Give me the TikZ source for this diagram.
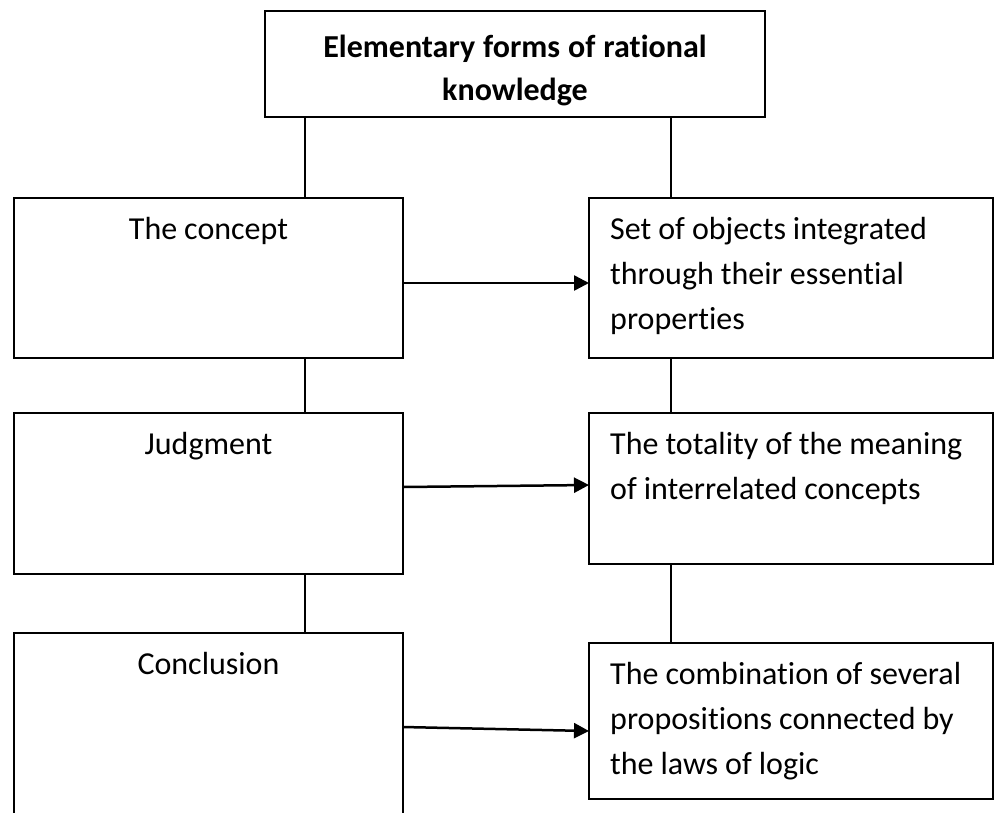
\documentclass[tikz,border=0pt]{standalone}
\usepackage{fontspec}
\setmainfont{Carlito}[Ligatures=NoCommon]
\usetikzlibrary{arrows.meta}
\newcommand{\wordgap}{\spaceskip 7pt\relax}
\newcommand{\titlegap}{\spaceskip 8pt\relax}

\begin{document}
\begin{tikzpicture}[x=1pt, y=-1pt,
    box/.style={draw, line width=2pt, inner sep=0pt, outer sep=0pt, anchor=north west},
    lbox/.style={box, minimum width=389pt},
    rbox/.style={box, minimum width=404pt},
    txt/.style={inner sep=0pt, font=\fontsize{32}{45}\selectfont},
    link/.style={line width=1.5pt},
    flow/.style={line width=2.5pt, -{Triangle[length=15pt, width=15pt]}}]
    \path[use as bounding box, clip] (0,0) rectangle (995,812);
    \coordinate (lx) at (305,0);
    \coordinate (rx) at (671,0);

    % boxes
    \node[box, minimum width=500pt, minimum height=106pt] (forms) at (265,11) {};
    \node[lbox, minimum height=160pt] (concept) at (14,198) {};
    \node[rbox, minimum height=160pt] (objects) at (589,198) {};
    \node[lbox, minimum height=161pt] (judgment) at (14,413) {};
    \node[rbox, minimum height=151pt] (totality) at (589,413) {};
    \node[lbox, minimum height=200pt] (conclusion) at (14,633) {};
    \node[rbox, minimum height=156pt] (combination) at (589,643) {};

    % texts
    \node[txt, anchor=north, text width=480pt, align=center, font=\fontsize{32}{43}\selectfont\bfseries]
        (forms-t) at ([yshift=-15.9pt]forms.north) {\titlegap\strut Elementary forms of rational\\knowledge};
    \node[txt, anchor=north] (concept-t) at ([yshift=-9.5pt]concept.north) {\wordgap\strut The concept};
    \node[txt, anchor=north] (judgment-t) at ([yshift=-9.5pt]judgment.north) {\strut Judgment};
    \node[txt, anchor=north] (conclusion-t) at ([yshift=-9.5pt]conclusion.north) {\strut Conclusion};
    \node[txt, anchor=north west, text width=375pt, align=left] (objects-t)
        at ([xshift=21pt, yshift=-9.5pt]objects.north west)
        {\wordgap\strut Set of objects integrated\\through their essential\\properties};
    \node[txt, anchor=north west, text width=375pt, align=left] (totality-t)
        at ([xshift=21pt, yshift=-9.5pt]totality.north west)
        {\wordgap\strut The totality of the meaning\\of interrelated concepts};
    \node[txt, anchor=north west, text width=375pt, align=left] (combination-t)
        at ([xshift=21pt, yshift=-9.5pt]combination.north west)
        {\wordgap\strut The combination of several\\propositions connected by\\the laws of logic};

    % links
    \draw[link] (forms.south -| lx) -- (concept.north -| lx);
    \draw[link] (forms.south -| rx) -- (objects.north -| rx);
    \draw[link] (concept.south -| lx) -- (judgment.north -| lx);
    \draw[link] (objects.south -| rx) -- (totality.north -| rx);
    \draw[link] (judgment.south -| lx) -- (conclusion.north -| lx);
    \draw[link] (totality.south -| rx) -- (combination.north -| rx);

    % arrows
    \draw[flow] ([yshift=-5pt]concept.east) -- ([yshift=-5pt]objects.west);
    \draw[flow] ([yshift=6.5pt]judgment.east) -- ([yshift=3.5pt]totality.west);
    \draw[flow] ([yshift=-94pt]conclusion.north east) -- ([yshift=-10pt]combination.west);
\end{tikzpicture}
\end{document}
